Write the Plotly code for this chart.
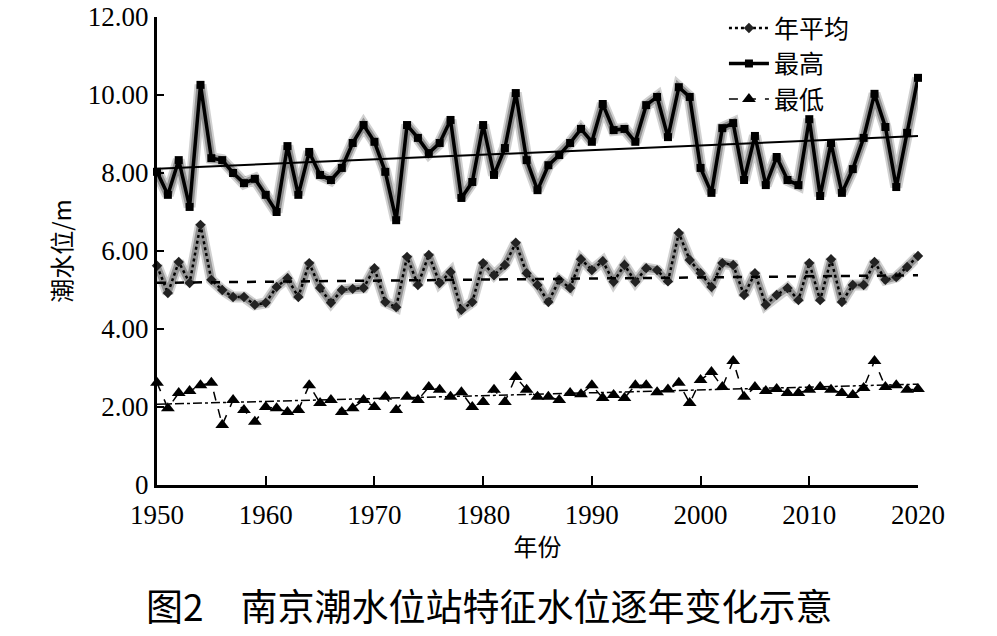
import numpy as np
import plotly.graph_objects as go

years = list(range(1950, 2021))

max_level = [8.03, 7.44, 8.33, 7.13, 10.26, 8.38, 8.33, 8.00, 7.74, 7.85,
             7.44, 7.00, 8.69, 7.44, 8.54, 7.95, 7.82, 8.13, 8.77, 9.23,
             8.80, 8.03, 6.79, 9.23, 8.90, 8.51, 8.77, 9.36, 7.36, 7.77,
             9.23, 7.95, 8.64, 10.05, 8.33, 7.56, 8.20, 8.46, 8.77, 9.13,
             8.80, 9.77, 9.10, 9.13, 8.80, 9.74, 9.95, 8.92, 10.20, 9.95,
             8.13, 7.49, 9.15, 9.28, 7.82, 8.95, 7.69, 8.41, 7.82, 7.69,
             9.38, 7.41, 8.77, 7.49, 8.10, 8.90, 10.03, 9.18, 7.64, 9.03,
             10.44]

mean_level = [5.62, 4.92, 5.72, 5.18, 6.67, 5.26, 5.00, 4.82, 4.82, 4.62,
              4.67, 5.08, 5.30, 4.82, 5.69, 5.05, 4.67, 5.00, 5.03, 5.05,
              5.56, 4.69, 4.56, 5.85, 5.13, 5.90, 5.18, 5.46, 4.49, 4.69,
              5.69, 5.38, 5.64, 6.21, 5.43, 5.13, 4.69, 5.26, 5.05, 5.79,
              5.51, 5.74, 5.21, 5.64, 5.21, 5.56, 5.51, 5.22, 6.46, 5.77,
              5.43, 5.08, 5.69, 5.64, 4.87, 5.43, 4.62, 4.87, 5.05, 4.74,
              5.69, 4.74, 5.79, 4.69, 5.13, 5.13, 5.72, 5.26, 5.33, 5.59,
              5.87]

min_level = [2.62, 1.97, 2.36, 2.41, 2.56, 2.62, 1.54, 2.18, 1.92, 1.62,
             2.00, 1.97, 1.87, 1.92, 2.56, 2.10, 2.18, 1.87, 1.97, 2.18,
             2.00, 2.26, 1.92, 2.26, 2.18, 2.51, 2.44, 2.26, 2.38, 2.00,
             2.13, 2.44, 2.13, 2.77, 2.44, 2.26, 2.26, 2.18, 2.36, 2.33,
             2.56, 2.23, 2.31, 2.23, 2.56, 2.56, 2.38, 2.45, 2.62, 2.10,
             2.69, 2.90, 2.51, 3.18, 2.26, 2.51, 2.41, 2.46, 2.36, 2.36,
             2.44, 2.51, 2.44, 2.36, 2.31, 2.49, 3.18, 2.51, 2.56, 2.44,
             2.46]

y_ticks = [0, 2, 4, 6, 8, 10, 12]
y_tick_text = ["0", "2.00", "4.00", "6.00", "8.00", "10.00", "12.00"]
x_ticks = [1950, 1960, 1970, 1980, 1990, 2000, 2010, 2020]

x_arr = np.array(years, dtype=float)


def trend(vals):
    k, b = np.polyfit(x_arr, np.array(vals), 1)
    return list(k * x_arr + b)


fig = go.Figure()

# shadows (blurred halo in the reference)
for vals, w, c in ((max_level, 12, "rgba(0,0,0,0.18)"), (max_level, 8, "rgba(0,0,0,0.3)"),
                   (mean_level, 11, "rgba(0,0,0,0.18)"), (mean_level, 7, "rgba(0,0,0,0.3)")):
    fig.add_trace(go.Scatter(x=years, y=vals, mode="lines",
                             line=dict(color=c, width=w),
                             showlegend=False, hoverinfo="skip", cliponaxis=False))

fig.add_trace(go.Scatter(x=years, y=mean_level, mode="lines+markers", name="年平均",
                         line=dict(color="black", width=2.5, dash="dot"),
                         marker=dict(symbol="diamond", size=8, color="#222"),
                         cliponaxis=False))
fig.add_trace(go.Scatter(x=years, y=max_level, mode="lines+markers", name="最高",
                         line=dict(color="black", width=3.5),
                         marker=dict(symbol="square", size=8, color="black"),
                         cliponaxis=False))
fig.add_trace(go.Scatter(x=years, y=min_level, mode="lines+markers", name="最低",
                         line=dict(color="black", width=1.5, dash="dash"),
                         marker=dict(symbol="triangle-up", size=12, color="black"),
                         cliponaxis=False))

# trend lines
fig.add_trace(go.Scatter(x=years, y=trend(max_level), mode="lines",
                         line=dict(color="black", width=2), showlegend=False, hoverinfo="skip"))
fig.add_trace(go.Scatter(x=years, y=trend(mean_level), mode="lines",
                         line=dict(color="black", width=2.5, dash="dash"), showlegend=False, hoverinfo="skip"))
fig.add_trace(go.Scatter(x=years, y=trend(min_level), mode="lines",
                         line=dict(color="black", width=1.5, dash="dashdot"), showlegend=False, hoverinfo="skip"))

tick_font = dict(family="Liberation Serif, Times New Roman, serif", size=27, color="black")
cjk = "Noto Sans CJK SC, sans-serif"

fig.update_layout(
    width=997, height=636,
    margin=dict(l=157, r=79, t=17, b=151, autoexpand=False),
    paper_bgcolor="white", plot_bgcolor="white",
    showlegend=True,
    legend=dict(x=0.745, y=1.025, xanchor="left", yanchor="top",
                font=dict(family=cjk, size=25, color="black"),
                bgcolor="rgba(0,0,0,0)", tracegroupgap=0, itemwidth=40),
    xaxis=dict(range=[1950, 2020], tickvals=x_ticks, ticks="inside", ticklen=9,
               tickwidth=2, tickcolor="black", showline=True, linecolor="black",
               linewidth=3, showgrid=False, zeroline=False, tickfont=tick_font,
               ticklabelstandoff=4,
               title=dict(text="年份", font=dict(family=cjk, size=24, color="black"), standoff=10)),
    yaxis=dict(range=[0, 12], tickvals=y_ticks, ticktext=y_tick_text, ticks="inside",
               ticklen=7, tickwidth=2, tickcolor="black", showline=True, linecolor="black",
               linewidth=3, showgrid=False, zeroline=False, tickfont=tick_font,
               title=dict(text="潮水位/m", font=dict(family=cjk, size=24, color="black"), standoff=10)),
    annotations=[dict(text="图2　南京潮水位站特征水位逐年变化示意", xref="paper", yref="paper",
                      x=(489 - 157) / 761, y=-(605 - 485) / 468, xanchor="center", yanchor="middle",
                      showarrow=False, font=dict(family=cjk, size=37, color="black"))],
)

fig.write_html("out.html")
